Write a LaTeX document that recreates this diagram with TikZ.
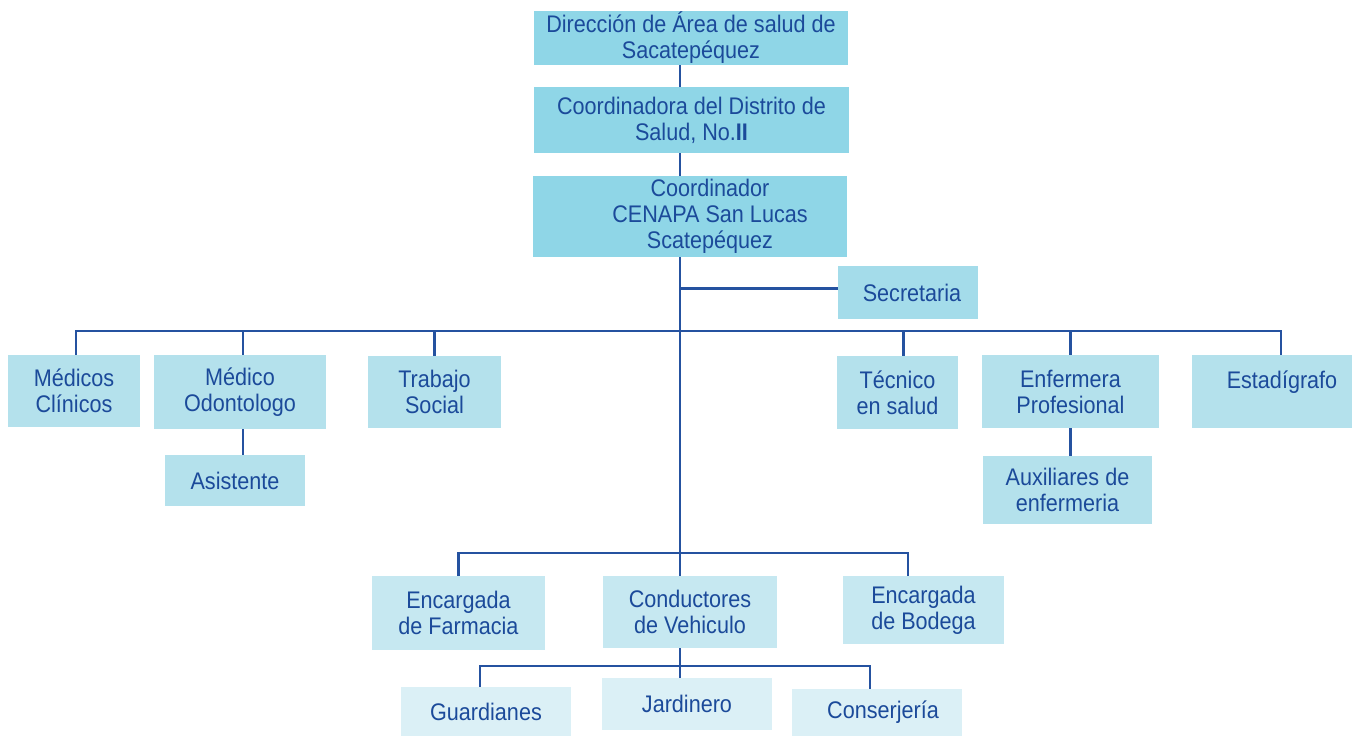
\documentclass[tikz,border=0pt]{standalone}
\usepackage{fontspec}
\setmainfont{Liberation Sans}[FakeStretch=0.9]
\usepackage{tikz}
\usetikzlibrary{positioning, calc}
\definecolor{inkblue}{HTML}{1B4A9A}
\definecolor{wireblue}{HTML}{2552A0}
\definecolor{boxA}{HTML}{8FD6E7}
\definecolor{boxB}{HTML}{A4DCEA}
\definecolor{boxC}{HTML}{B4E1EC}
\definecolor{boxD}{HTML}{C6E8F1}
\definecolor{boxE}{HTML}{DBF0F6}
\tikzstyle{Link} = [
%connector between boxes:
draw = wireblue,
line width = 1.2pt
]

\begin{document}
\begin{tikzpicture}[x = 0.5pt, y = -0.5pt,
				unit/.style = {rectangle, inner sep = 0pt, text = inkblue, align = center, font = \fontsize{12}{13}\selectfont},
				head/.style = {unit, fill = boxA},
				clerk/.style = {unit, fill = boxB},
				staff/.style = {unit, fill = boxC},
				keeper/.style = {unit, fill = boxD},
				helper/.style = {unit, fill = boxE},
			]

			\useasboundingbox (0,0) rectangle (1356,736);

			\node[head, minimum width = 157pt, minimum height = 27pt](dir) at (691,38){Dirección de Área de salud de\\Sacatepéquez};
			\node[head, minimum width = 157.5pt, minimum height = 33pt](dist) at (691.5,120){Coordinadora del Distrito de\\Salud, No.\textbf{II}};
			\node[head, minimum width = 157pt, minimum height = 40.5pt](cenapa) at (690,216.5){\hspace*{20pt}Coordinador\\\hspace*{20pt}CENAPA San Lucas\\\hspace*{20pt}Scatepéquez};
			\node[clerk, minimum width = 70pt, minimum height = 26.5pt](sec) at (908,292.5){\hspace*{4pt}Secretaria};

			\node[staff, minimum width = 66pt, minimum height = 36pt](clin) at (74,391){Médicos\\Clínicos};
			\node[staff, minimum width = 86pt, minimum height = 37pt](odon) at (240,392){Médico\\Odontologo};
			\node[staff, minimum width = 66.5pt, minimum height = 36pt](trab) at (434.5,392){Trabajo\\Social};
			\node[staff, minimum width = 60.5pt, minimum height = 36.5pt](tec) at (897.5,392.5){Técnico\\en salud};
			\node[staff, minimum width = 88.5pt, minimum height = 36.5pt](enf) at (1070.5,391.5){Enfermera\\Profesional};
			\node[staff, minimum width = 80pt, minimum height = 36.5pt, text depth = 12pt](esta) at (1272,391.5){\hspace*{10pt}Estadígrafo};
			\node[staff, minimum width = 70pt, minimum height = 25.5pt](asis) at (235,480.5){Asistente};
			\node[staff, minimum width = 84.5pt, minimum height = 34pt](aux) at (1067.5,490){Auxiliares de\\enfermeria};

			\node[keeper, minimum width = 86.5pt, minimum height = 37pt](farm) at (458.5,613){Encargada\\de Farmacia};
			\node[keeper, minimum width = 87pt, minimum height = 36pt](cond) at (690,612){Conductores\\de Vehiculo};
			\node[keeper, minimum width = 80.5pt, minimum height = 34pt](bode) at (923.5,610){Encargada\\de Bodega};

			\node[helper, minimum width = 85pt, minimum height = 24.5pt](guar) at (486,711.5){Guardianes};
			\node[helper, minimum width = 85pt, minimum height = 26pt](jard) at (687,704){Jardinero};
			\node[helper, minimum width = 85pt, minimum height = 23.5pt](cons) at (877,712.5){\hspace*{6pt}Conserjería};

			\coordinate(spine) at (680,0);
			\coordinate(busA) at (680,331);
			\coordinate(busB) at (680,553);
			\coordinate(busC) at (680,666);

			\draw[Link](dir.south -| spine)--(dist.north -| spine);
			\draw[Link](dist.south -| spine)--(cenapa.north -| spine);
			\draw[Link](cenapa.south -| spine)--(busB);
			\draw[Link]([yshift = 2pt]sec.west -| spine)--([yshift = 2pt]sec.west);

			\draw[Link]([xshift = 1pt]clin.north)--([xshift = 1pt]clin.north |- busA)--([xshift = 4.5pt]esta.north |- busA)--([xshift = 4.5pt]esta.north);
			\draw[Link]([xshift = 1.5pt]odon.north)--([xshift = 1.5pt]odon.north |- busA);
			\draw[Link](trab.north)--(trab.north |- busA);
			\draw[Link]([xshift = 3pt]tec.north)--([xshift = 3pt]tec.north |- busA);
			\draw[Link](enf.north)--(enf.north |- busA);
			\draw[Link]([xshift = 1.5pt]odon.south)--([xshift = 1.5pt]odon.south |- asis.north);
			\draw[Link](enf.south)--(aux.north -| enf.south);

			\draw[Link](farm.north)--(farm.north |- busB)--([xshift = -7.75pt]bode.north |- busB)--([xshift = -7.75pt]bode.north);
			\draw[Link](busB)--(cond.north -| busB);
			\draw[Link](cond.south -| busB)--(jard.north -| busB);
			\draw[Link]([xshift = -3pt]guar.north)--([xshift = -3pt]guar.north |- busC)--([xshift = -3.5pt]cons.north |- busC)--([xshift = -3.5pt]cons.north);

		\end{tikzpicture}
\end{document}
